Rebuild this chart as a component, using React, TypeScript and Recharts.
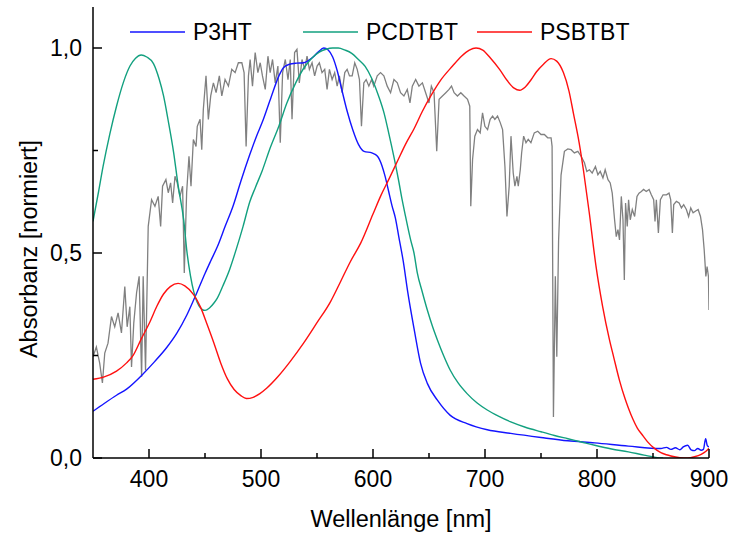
import React from "react";
import { LineChart, Line, XAxis, YAxis, Legend, Label } from "recharts";

// ─── Data ─────────────────────────────────────────────────────────────────────

// AM1.5 solar spectrum (normalised)
const solarNm = [
  350, 353, 356, 358.4, 360.5, 363.4, 366.5, 369.4, 372.4, 375.4, 378.4, 380.5, 382.9, 384.4, 386.4, 388.9,
  391.2, 393.4, 394.8, 396.9, 399.3, 402.3, 405.3, 408.2, 410.4, 412.1, 415.1, 417.2, 419.3, 421.1, 423.2,
  425.2, 427.6, 430, 431.5, 433.6, 435.7, 437.5, 439.6, 442, 443.1, 445.6, 447.1, 448.5, 450.9, 453, 455.1,
  457.5, 459.9, 462.8, 465, 467.9, 470.9, 473.9, 476.9, 479.8, 482.9, 484.9, 486.7, 488.8, 490.3, 492.4,
  494.8, 497.2, 499.3, 501.3, 503.8, 506.2, 508.2, 510.3, 512.7, 515.1, 517.2, 519.3, 521.7, 524.1, 526.1,
  527.7, 530, 532.1, 534.2, 536.6, 539, 541.1, 543.2, 545.6, 547.9, 550.1, 552.1, 554.5, 556.9, 559, 561.1,
  563.5, 565.8, 568, 570, 572.4, 574.8, 576.9, 579, 581.4, 583.7, 585.9, 587.9, 589.7, 591.8, 593.9, 596.3,
  598.7, 600.7, 603.8, 606.7, 609.7, 612.7, 615.7, 618.7, 621.7, 624.6, 627.6, 630.6, 633, 635.1, 638.1,
  641, 644.1, 647, 650, 652.1, 654.5, 656.9, 659, 662, 665, 667.9, 670.1, 672.4, 675.4, 678.4, 681.3,
  684.4, 686.4, 687.3, 688.9, 690.9, 693.3, 695.7, 697.8, 699.9, 702.3, 704.6, 706.8, 708.8, 711.2, 713.6,
  715.7, 717.8, 719.6, 721.6, 723.2, 725.2, 726.7, 728.5, 729.7, 731.5, 732.7, 734.5, 736.6, 738.6, 741,
  744, 747.1, 750, 753, 756, 759, 759.9, 761.1, 762.8, 764.1, 765.7, 767.9, 770.9, 773.9, 776.9, 779.8,
  782.9, 785.8, 788.8, 790.9, 793.3, 795.7, 798.6, 800.8, 802.9, 805.3, 807.3, 809.8, 811.8, 813.6, 815.7,
  817.2, 818.7, 820.1, 821.7, 823.2, 824.4, 825.5, 827, 828.2, 829.7, 831.5, 833.6, 835.7, 837.5, 839.6,
  841.6, 844, 846.5, 848.5, 850.6, 851.8, 853, 854.8, 856.6, 859, 862, 864.3, 865.8, 867.3, 868.5, 870.9,
  873.3, 875.4, 877.4, 879.8, 881.8, 883.7, 885.8, 887.8, 890.3, 892.4, 894.2, 895.7, 897.2, 898.3, 899.5, 900,
];
const solarAbs = [
  0.247, 0.271, 0.231, 0.183, 0.256, 0.28, 0.345, 0.32, 0.354, 0.305, 0.418, 0.32, 0.369, 0.222, 0.329, 0.403,
  0.443, 0.198, 0.443, 0.214, 0.565, 0.63, 0.614, 0.638, 0.565, 0.663, 0.679, 0.647, 0.671, 0.622, 0.687,
  0.671, 0.638, 0.663, 0.451, 0.647, 0.736, 0.663, 0.777, 0.76, 0.809, 0.826, 0.752, 0.85, 0.932, 0.826, 0.883,
  0.915, 0.891, 0.932, 0.883, 0.923, 0.907, 0.948, 0.94, 0.964, 0.964, 0.94, 0.76, 0.932, 0.972, 0.907,
  0.989, 0.94, 0.964, 0.932, 0.899, 0.98, 0.94, 0.972, 0.915, 0.956, 0.769, 0.94, 0.972, 0.923, 0.972,
  0.826, 0.989, 0.997, 0.915, 0.972, 0.948, 0.98, 0.948, 0.964, 0.932, 0.956, 0.964, 0.94, 0.948, 0.899, 0.948,
  0.923, 0.94, 0.907, 0.932, 0.891, 0.94, 0.948, 0.932, 0.932, 0.964, 0.948, 0.923, 0.809, 0.915, 0.923, 0.907,
  0.923, 0.907, 0.932, 0.94, 0.932, 0.907, 0.891, 0.923, 0.915, 0.891, 0.883, 0.899, 0.866, 0.907, 0.923,
  0.907, 0.915, 0.891, 0.866, 0.907, 0.891, 0.748, 0.875, 0.883, 0.891, 0.899, 0.907, 0.891, 0.883, 0.891, 0.883,
  0.875, 0.858, 0.614, 0.728, 0.785, 0.801, 0.793, 0.842, 0.809, 0.801, 0.826, 0.834, 0.826, 0.834, 0.818,
  0.801, 0.711, 0.589, 0.663, 0.785, 0.695, 0.663, 0.687, 0.663, 0.703, 0.744, 0.785, 0.769, 0.777, 0.769,
  0.793, 0.797, 0.789, 0.789, 0.781, 0.781, 0.76, 0.1, 0.443, 0.247, 0.53, 0.69, 0.748, 0.754, 0.752, 0.744,
  0.748, 0.736, 0.72, 0.699, 0.703, 0.695, 0.711, 0.691, 0.699, 0.683, 0.703, 0.679, 0.671, 0.646, 0.581,
  0.54, 0.557, 0.532, 0.638, 0.581, 0.434, 0.622, 0.565, 0.63, 0.581, 0.606, 0.589, 0.638, 0.646, 0.65,
  0.655, 0.65, 0.655, 0.642, 0.63, 0.577, 0.63, 0.549, 0.63, 0.642, 0.642, 0.646, 0.63, 0.549, 0.618, 0.626,
  0.622, 0.61, 0.618, 0.606, 0.589, 0.61, 0.598, 0.602, 0.606, 0.589, 0.557, 0.508, 0.443, 0.467, 0.443, 0.361,
];

const p3htNm = [
  350, 360, 371, 380, 394, 405, 416, 425, 434, 443, 450, 455, 461, 468, 475, 482, 490, 496, 501, 509, 516,
  520, 525, 532, 538, 546, 551, 556, 560, 564, 568, 572, 577, 582, 587, 592, 599, 604, 608, 611, 614, 617,
  620, 623, 627, 631, 637, 642.5, 648.5, 657.5, 669, 684, 702, 723, 750, 774, 798, 828, 857,
  862, 866, 870, 874, 877, 881, 884, 887, 890, 893, 895, 897, 898.5, 900,
];
const p3htAbs = [
  0.114, 0.133, 0.153, 0.168, 0.203, 0.235, 0.27, 0.305, 0.35, 0.405, 0.45, 0.48, 0.515, 0.565, 0.614, 0.675,
  0.74, 0.785, 0.818, 0.88, 0.932, 0.952, 0.96, 0.963, 0.964, 0.977, 0.99, 1.0, 0.995, 0.978, 0.945, 0.9,
  0.845, 0.8, 0.765, 0.748, 0.744, 0.736, 0.713, 0.685, 0.65, 0.615, 0.585, 0.54, 0.48, 0.405, 0.31, 0.231,
  0.182, 0.141, 0.104, 0.084, 0.069, 0.06, 0.05, 0.042, 0.037, 0.029, 0.023,
  0.026, 0.021, 0.025, 0.02, 0.027, 0.031, 0.02, 0.018, 0.023, 0.019, 0.021, 0.047, 0.03, 0.027,
];

const pcdtbtNm = [
  350, 355, 359, 365, 371, 377, 383, 388, 393, 398, 404, 409, 413, 417, 422, 426, 431, 434, 437, 440, 443,
  446, 450, 454, 458, 461, 466, 472, 478, 484, 490, 495, 501, 508, 516, 523, 531, 538, 546, 552, 558, 564,
  569, 575, 581, 587, 593, 599, 605, 610, 614, 619, 623, 626, 629, 633.6, 636.6, 639.6, 644, 648.5, 653,
  657.5, 663, 669, 676, 684, 693, 702, 712, 723, 736, 750, 762, 774, 786, 798, 813, 828, 842, 854, 859,
];
const pcdtbtAbs = [
  0.577, 0.65, 0.711, 0.79, 0.858, 0.915, 0.956, 0.975, 0.983, 0.978, 0.962, 0.925, 0.883, 0.825, 0.745,
  0.665, 0.58, 0.5, 0.445, 0.405, 0.38, 0.366, 0.36, 0.366, 0.378, 0.39, 0.42, 0.46, 0.51, 0.565, 0.625,
  0.66, 0.7, 0.755, 0.81, 0.865, 0.915, 0.95, 0.977, 0.99, 0.997, 1.0, 1.0, 0.995, 0.987, 0.972, 0.955,
  0.925, 0.883, 0.84, 0.793, 0.73, 0.675, 0.63, 0.59, 0.532, 0.5, 0.451, 0.405, 0.361, 0.322,
  0.288, 0.25, 0.214, 0.183, 0.157, 0.134, 0.117, 0.102, 0.088, 0.075, 0.064, 0.055, 0.047, 0.039, 0.031,
  0.022, 0.015, 0.007, 0.001, 0.0,
];

const psbtbtNm = [
  350, 360, 371, 380, 386, 393, 401, 407, 413, 419, 426, 432, 440, 446, 452, 458, 464, 470, 476, 482, 487,
  493, 499, 505, 515, 526, 538, 550, 562, 571, 580, 589, 600, 607, 614, 622, 629, 637, 644, 652, 660, 671,
  679, 686, 692, 698, 705, 713, 720, 726, 731, 736, 741, 746, 752, 759, 764, 770, 775, 779, 784, 788, 793,
  799, 805, 811, 815, 820, 825, 828, 832, 836, 840, 845, 851, 857, 862, 866, 874, 881, 887, 893, 897, 900,
];
const psbtbtAbs = [
  0.192, 0.198, 0.212, 0.232, 0.251, 0.29, 0.333, 0.37, 0.4, 0.418, 0.426, 0.42, 0.398, 0.368, 0.325,
  0.28, 0.232, 0.193, 0.167, 0.152, 0.145, 0.148, 0.157, 0.17, 0.198, 0.235, 0.28, 0.33, 0.381, 0.43, 0.48,
  0.524, 0.595, 0.64, 0.679, 0.725, 0.765, 0.805, 0.845, 0.885, 0.92, 0.956, 0.98, 0.995, 1.0, 0.995, 0.975,
  0.948, 0.92, 0.902, 0.897, 0.905, 0.922, 0.942, 0.96, 0.974, 0.968, 0.94, 0.895, 0.84, 0.77, 0.7, 0.6,
  0.47, 0.37, 0.29, 0.245, 0.19, 0.145, 0.122, 0.095, 0.073, 0.058, 0.04, 0.024, 0.013, 0.008, 0.005,
  0.001, 0.0, 0.003, 0.009, 0.016, 0.024,
];

const xTicksBottom = [400, 450, 500, 550, 600, 650, 700, 750, 800, 850, 900];
const xTicksTop = [400, 500, 550, 600, 700, 750, 800, 850];
const yTicks = [0, 0.25, 0.5, 0.75, 1.0];

// ─── Helpers ──────────────────────────────────────────────────────────────────

const FONT = "'Liberation Sans', Arial, Helvetica, sans-serif";
const GRAY = "#808080";
const BLUE = "#1414ff";
const GREEN = "#12a07f";
const RED = "#ff1010";

const zip = (xs: number[], ys: number[]) => xs.map((nm, i) => ({ nm, v: ys[i] }));

const solar = zip(solarNm, solarAbs);
const p3ht = zip(p3htNm, p3htAbs);
const pcdtbt = zip(pcdtbtNm, pcdtbtAbs);
const psbtbt = zip(psbtbtNm, psbtbtAbs);

const isMajorX = (v: number) => v % 100 === 0;
const isMajorY = (v: number) => Math.abs((v * 2) % 1) < 1e-6;
const fmtY = (v: number) => v.toFixed(1).replace(".", ",");

// ─── Inward ticks ─────────────────────────────────────────────────────────────

function BottomTick({ x, y, payload }: any) {
  const major = isMajorX(payload.value);
  return (
    <g>
      <line x1={x} x2={x} y1={y} y2={y - (major ? 9 : 5)} stroke="#000" strokeWidth={1.5} />
      {major && (
        <text x={x} y={y + 29} textAnchor="middle" fontSize={23} fontFamily={FONT} fill="#000">
          {payload.value}
        </text>
      )}
    </g>
  );
}

function TopTick({ x, y, payload }: any) {
  const major = isMajorX(payload.value);
  return <line x1={x} x2={x} y1={y} y2={y + (major ? 8 : 7)} stroke="#000" strokeWidth={1.5} />;
}

function LeftTick({ x, y, payload }: any) {
  const major = isMajorY(payload.value);
  return (
    <g>
      <line x1={x} x2={x + (major ? 9 : 5)} y1={y} y2={y} stroke="#000" strokeWidth={1.5} />
      {major && (
        <text x={x - 11} y={y + 8} textAnchor="end" fontSize={23} fontFamily={FONT} fill="#000">
          {fmtY(payload.value)}
        </text>
      )}
    </g>
  );
}

function RightTick({ x, y, payload }: any) {
  const major = isMajorY(payload.value);
  return <line x1={x} x2={x - (major ? 9 : 6)} y1={y} y2={y} stroke="#000" strokeWidth={1.5} />;
}

// ─── Legend ───────────────────────────────────────────────────────────────────

const legendItems = [
  { name: "P3HT", color: BLUE, width: 173 },
  { name: "PCDTBT", color: GREEN, width: 174 },
  { name: "PSBTBT", color: RED, width: 160 },
];

function ChartLegend() {
  return (
    <div style={{ display: "flex", alignItems: "center", height: 30, fontFamily: FONT, fontSize: 23 }}>
      {legendItems.map((it) => (
        <div key={it.name} style={{ display: "flex", alignItems: "center", width: it.width }}>
          <svg width={55} height={4} style={{ marginRight: 8 }}>
            <line x1={0} x2={55} y1={2} y2={2} stroke={it.color} strokeWidth={1.4} />
          </svg>
          <span style={{ lineHeight: "30px", color: "#000" }}>{it.name}</span>
        </div>
      ))}
    </div>
  );
}

// ─── Chart ────────────────────────────────────────────────────────────────────

const axisLine = { stroke: "#000", strokeWidth: 1.5 };

export default function App() {
  return (
    <div style={{ position: "absolute", left: 0, top: 0, background: "#fff" }}>
      <LineChart width={730} height={535} margin={{ top: 7, right: 21, bottom: 0, left: 0 }}>
        <XAxis
          dataKey="nm"
          type="number"
          domain={[350, 900]}
          allowDataOverflow
          ticks={xTicksBottom}
          interval={0}
          height={77}
          tickSize={0}
          tickMargin={0}
          tickLine={false}
          axisLine={axisLine}
          tick={<BottomTick />}
        >
          <Label
            content={({ viewBox }: any) => (
              <text
                x={viewBox.x + viewBox.width / 2}
                y={viewBox.y + 69}
                textAnchor="middle"
                fontSize={23.5}
                fontFamily={FONT}
                fill="#000"
              >
                Wellenlänge [nm]
              </text>
            )}
          />
        </XAxis>
        <XAxis
          xAxisId="top"
          orientation="top"
          type="number"
          domain={[350, 900]}
          allowDataOverflow
          ticks={xTicksTop}
          interval={0}
          height={0}
          tickSize={0}
          tickMargin={0}
          tickLine={false}
          axisLine={axisLine}
          tick={<TopTick />}
        />
        <YAxis
          type="number"
          domain={[0, 1.1]}
          allowDataOverflow
          ticks={yTicks}
          interval={0}
          width={93}
          tickSize={0}
          tickMargin={0}
          tickLine={false}
          axisLine={axisLine}
          tick={<LeftTick />}
        >
          <Label
            content={({ viewBox }: any) => {
              const cx = viewBox.x + 37;
              const cy = viewBox.y + 242;
              return (
                <text
                  x={cx}
                  y={cy}
                  transform={`rotate(-90, ${cx}, ${cy})`}
                  textAnchor="middle"
                  fontSize={23.5}
                  fontFamily={FONT}
                  fill="#000"
                >
                  Absorbanz [normiert]
                </text>
              );
            }}
          />
        </YAxis>
        <YAxis
          yAxisId="right"
          orientation="right"
          type="number"
          domain={[0, 1.1]}
          allowDataOverflow
          ticks={yTicks}
          interval={0}
          width={0}
          tickSize={0}
          tickMargin={0}
          tickLine={false}
          axisLine={axisLine}
          tick={<RightTick />}
        />
        <Legend
          layout="horizontal"
          verticalAlign="middle"
          align="center"
          content={<ChartLegend />}
          wrapperStyle={{ top: 17, left: 130, width: "auto", height: "auto" }}
        />
        <Line data={solar} dataKey="v" stroke={GRAY} strokeWidth={1.3} dot={false} isAnimationActive={false} legendType="none" />
        <Line type="monotone" data={p3ht} dataKey="v" name="P3HT" stroke={BLUE} strokeWidth={1.4} dot={false} isAnimationActive={false} />
        <Line type="monotone" data={pcdtbt} dataKey="v" name="PCDTBT" stroke={GREEN} strokeWidth={1.4} dot={false} isAnimationActive={false} />
        <Line type="monotone" data={psbtbt} dataKey="v" name="PSBTBT" stroke={RED} strokeWidth={1.4} dot={false} isAnimationActive={false} />
      </LineChart>
    </div>
  );
}
